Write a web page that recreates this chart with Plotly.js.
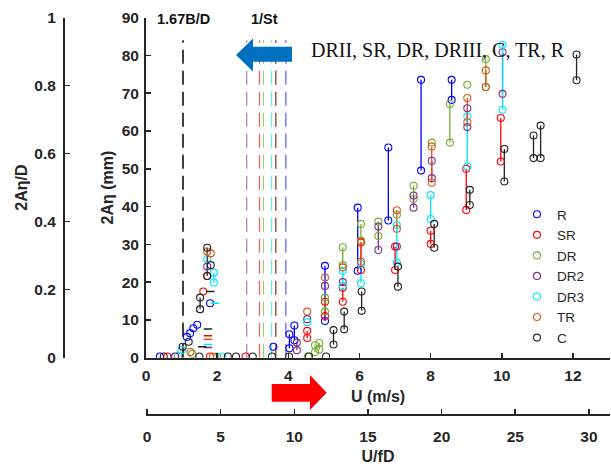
<!DOCTYPE html>
<html><head><meta charset="utf-8">
<script src="https://cdn.plot.ly/plotly-3.0.1.min.js"></script>
<style>html,body{margin:0;padding:0;background:#fff}#chart{width:611px;height:465px}</style>
</head><body><div id="chart"></div>
<script>
// ---------- data ----------
const seriesNames  = ['R', 'SR', 'DR', 'DR2', 'DR3', 'TR', 'C'];
const seriesColors = ['#0000ff', '#ff0000', '#77ac30', '#7e2f8e', '#00e5ff', '#d95319', '#222222'];

// each entry: U (m/s), upper 2Aη (mm), lower 2Aη (mm)  (equal when a single point)
const R_u  = [0.39, 0.82, 1.15, 1.24, 1.33, 1.44, 1.80, 3.58, 4.03, 4.17, 5.03, 5.95, 6.81, 7.73, 8.59];
const R_hi = [0.3, 0.3, 5.5, 6.5, 7.8, 8.7, 14.4, 2.9, 6.2, 8.5, 24.3, 39.7, 55.6, 73.5, 73.5];
const R_lo = [0.3, 0.3, 5.5, 6.5, 7.8, 8.7, 14.4, 2.9, 2.5, 4.6, 9.7, 23.0, 36.3, 49.5, 68.2];

const SR_u  = [0.60, 1.80, 2.80, 1.61, 1.72, 4.53, 5.03, 5.53, 6.04, 7.00, 8.00, 9.00, 9.97];
const SR_hi = [0.3, 0.3, 0.3, 17.5, 21.6, 7.1, 14.8, 18.5, 30.5, 29.4, 33.6, 50.0, 63.4];
const SR_lo = [0.3, 0.3, 0.3, 17.5, 21.6, 5.2, 11.0, 14.8, 23.2, 23.2, 30.1, 39.1, 51.9];

const DR_u  = [0.90, 1.30, 2.00, 4.55, 4.75, 4.87, 5.03, 5.53, 6.04, 6.53, 7.05, 7.52, 8.03, 8.54, 9.03, 9.55];
const DR_hi = [0.5, 1.0, 0.3, 0.3, 3.3, 3.9, 15.9, 29.2, 35.4, 36.0, 37.8, 45.5, 56.9, 67.1, 72.2, 79.0];
const DR_lo = [0.5, 1.0, 0.3, 0.3, 1.5, 2.2, 12.2, 24.5, 31.0, 32.2, 37.8, 42.0, 56.9, 56.9, 72.2, 71.6];

const DR2_u  = [1.52, 1.72, 4.24, 4.53, 5.03, 5.53, 6.53, 7.05, 7.52, 8.03, 9.03, 10.02];
const DR2_hi = [12.8, 24.1, 4.0, 10.2, 19.0, 20.0, 34.7, 29.4, 42.9, 52.1, 66.0, 80.8];
const DR2_lo = [12.8, 24.1, 2.0, 10.2, 19.0, 20.0, 28.5, 29.4, 39.7, 47.5, 61.0, 69.8];

const DR3_u  = [1.00, 2.14, 1.72, 1.91, 4.53, 5.53, 6.04, 7.05, 8.00, 9.03, 10.02];
const DR3_hi = [2.0, 0.3, 26.1, 22.5, 9.4, 23.0, 24.8, 35.1, 43.0, 63.8, 82.8];
const DR3_lo = [2.0, 0.3, 26.1, 19.9, 9.4, 19.0, 19.7, 25.2, 36.7, 50.6, 65.6];

const TR_u  = [1.25, 1.88, 1.72, 1.82, 4.53, 5.03, 5.53, 6.04, 7.05, 8.03, 9.03, 9.55];
const TR_hi = [1.5, 0.3, 28.1, 27.6, 12.2, 21.2, 23.9, 30.7, 39.0, 55.9, 68.7, 76.0];
const TR_lo = [1.5, 0.3, 28.1, 27.6, 12.2, 21.2, 23.9, 25.4, 34.1, 46.3, 62.3, 71.6];

const C_u  = [0.50, 1.50, 2.30, 2.53, 3.00, 3.54, 4.02, 4.58, 5.06, 1.03, 1.20, 1.52, 1.72, 1.82, 5.27, 5.57, 6.06, 7.08, 8.10, 9.10, 10.07, 10.89, 11.09, 12.10];
const C_hi = [0.3, 0.3, 0.3, 0.3, 0.3, 0.3, 0.3, 0.3, 0.3, 2.9, 4.2, 15.9, 29.1, 24.5, 7.3, 12.2, 17.5, 24.1, 35.4, 44.4, 55.2, 58.8, 61.4, 80.2];
const C_lo = [0.3, 0.3, 0.3, 0.3, 0.3, 0.3, 0.3, 0.3, 0.3, 2.9, 4.2, 12.8, 21.6, 24.5, 3.5, 7.5, 12.4, 18.8, 29.1, 40.4, 46.6, 52.8, 52.8, 73.4];

// short horizontal dash markers near the lock-in region
const dashU     = [1.81, 1.94, 1.74, 1.74, 1.74, 1.74, 1.74, 1.58];
const dashY     = [17.5, 14.4, 7.6, 5.8, 4.9, 3.5, 2.7, 2.9];
const dashColor = ['#222222', '#00e5ff', '#222222', '#ff0000', '#d95319', '#00e5ff', '#7e2f8e', '#222222'];

// reference lines
const vbU = [1.04];                    // 1.67B/D
const stU = [2.83, 3.19, 3.30, 3.53, 3.64, 3.66, 3.93];   // 1/St
const stColor = ['#7e2f8e', '#ff0000', '#77ac30', '#00e5ff', '#222222', '#d95319', '#0000ff'];
const refTop = 84;

const U_ticks   = [0, 2, 4, 6, 8, 10, 12];
const UfD_ticks = [0, 5, 10, 15, 20, 25, 30];

// ---------- build ----------
const seriesData = [[R_u,R_hi,R_lo],[SR_u,SR_hi,SR_lo],[DR_u,DR_hi,DR_lo],[DR2_u,DR2_hi,DR2_lo],
                    [DR3_u,DR3_hi,DR3_lo],[TR_u,TR_hi,TR_lo],[C_u,C_hi,C_lo]];
const traces = [];

// reference dashed lines
vbU.forEach(u => traces.push({x:[u,u], y:[0,refTop], mode:'lines', showlegend:false, hoverinfo:'skip',
  line:{color:'#111111', width:1.6, dash:'14px,7px'}}));
stU.forEach((u,i) => traces.push({x:[u,u], y:[0,refTop], mode:'lines', showlegend:false, hoverinfo:'skip',
  opacity:0.65, line:{color:stColor[i], width:1.2, dash:'14px,7px'}}));

// segments
seriesData.forEach((d,k) => {
  const [u,hi,lo] = d; const xs=[], ys=[];
  u.forEach((v,i) => { if (hi[i] !== lo[i]) { xs.push(v,v,null); ys.push(hi[i],lo[i],null); } });
  traces.push({x:xs, y:ys, mode:'lines', showlegend:false, hoverinfo:'skip',
    line:{color:seriesColors[k], width:1.3}});
});
// markers
seriesData.forEach((d,k) => {
  const [u,hi,lo] = d; const xs=[], ys=[];
  u.forEach((v,i) => { xs.push(v); ys.push(hi[i]); if (hi[i] !== lo[i]) { xs.push(v); ys.push(lo[i]); } });
  traces.push({x:xs, y:ys, mode:'markers', name:seriesNames[k],
    marker:{symbol:'circle-open', size:7, color:seriesColors[k], line:{width:1.1, color:seriesColors[k]}}});
});
// dashes
traces.push({x:dashU, y:dashY, mode:'markers', showlegend:false, hoverinfo:'skip',
  marker:{symbol:'line-ew', size:6, color:dashColor, line:{width:1.6, color:dashColor}}});
// dummy traces to activate the extra axes
traces.push({x:[0], y:[0], xaxis:'x2', yaxis:'y', mode:'markers', showlegend:false, hoverinfo:'skip', marker:{opacity:0}});
traces.push({x:[0], y:[0], xaxis:'x', yaxis:'y2', mode:'markers', showlegend:false, hoverinfo:'skip', marker:{opacity:0}});

// ---------- layout helpers (pixel -> paper) ----------
const W = 611, H = 465;
const px = v => v / W, py = v => 1 - v / H;
function poly(pts){ return 'M' + pts.map(p => px(p[0]).toFixed(5) + ',' + py(p[1]).toFixed(5)).join(' L') + ' Z'; }

const axCol = '#262626';
const tickFont = {family:'Liberation Sans, Arial, sans-serif', size:15.5, color:axCol, weight:'bold'};
const titleFont = {family:'Liberation Sans, Arial, sans-serif', size:16, color:axCol, weight:'bold'};
const domX = [px(146), px(610)];
const domY = [py(357.7), py(17.5)];

const layout = {
  width: W, height: H,
  margin: {l:0, r:0, t:0, b:0},
  paper_bgcolor: '#ffffff', plot_bgcolor: 'rgba(0,0,0,0)',
  showlegend: true,
  legend: {x: px(517), y: py(199), xanchor:'left', yanchor:'top', bgcolor:'rgba(0,0,0,0)',
           font:{family:'Liberation Sans, Arial, sans-serif', size:13.5, color:axCol}},
  xaxis: {domain: domX, range:[0, 13.04], tickvals:U_ticks, ticks:'inside', ticklen:5, tickwidth:1.6, tickcolor:axCol,
          showline:true, linewidth:2, linecolor:axCol, showgrid:false, zeroline:false, tickfont:tickFont,
          ticklabelstandoff:3,
          title:{text:'U (m/s)', font:titleFont, standoff:8}},
  yaxis: {domain: domY, range:[0, 90], dtick:10, ticks:'inside', ticklen:5, tickwidth:1.6, tickcolor:axCol,
          showline:true, linewidth:2, linecolor:axCol, showgrid:false, zeroline:false, tickfont:tickFont,
          ticklabelstandoff:2,
          title:{text:'2Aη (mm)', font:titleFont, standoff:4}},
  xaxis2: {overlaying:'x', anchor:'free', position: py(415), side:'bottom', range:[-0.07, 31.43], tickvals:UfD_ticks,
          ticks:'inside', ticklen:5, tickwidth:1.6, tickcolor:axCol, showline:true, linewidth:2, linecolor:axCol,
          showgrid:false, zeroline:false, tickfont:tickFont, ticklabelstandoff:7,
          title:{text:'U/fD', font:titleFont, standoff:8}},
  yaxis2: {overlaying:'y', anchor:'free', position: px(64), side:'left', range:[0, 1], dtick:0.2,
          ticks:'inside', ticklen:5, tickwidth:1.6, tickcolor:axCol, showline:true, linewidth:2, linecolor:axCol,
          showgrid:false, zeroline:false, tickfont:tickFont, ticklabelstandoff:4,
          title:{text:'2Aη/D', font:titleFont, standoff:2}},
  shapes: [
    {type:'path', xref:'paper', yref:'paper', fillcolor:'#0070c0', line:{width:0},
     path: poly([[236,55],[253,38.5],[253,46.7],[292,46.7],[292,61.7],[253,61.7],[253,71.5]])},
    {type:'path', xref:'paper', yref:'paper', fillcolor:'#ff0000', line:{width:0},
     path: poly([[271.7,384],[310,384],[310,375],[326.7,392.8],[310,410],[310,401.7],[271.7,401.7]])}
  ],
  annotations: [
    {text:'1.67B/D', xref:'paper', yref:'paper', x:px(183), y:py(19), showarrow:false, xanchor:'center', yanchor:'middle',
     font:{family:'Liberation Sans, Arial, sans-serif', size:14.5, color:'#111', weight:'bold'}},
    {text:'1/St', xref:'paper', yref:'paper', x:px(264.5), y:py(19), showarrow:false, xanchor:'center', yanchor:'middle',
     font:{family:'Liberation Sans, Arial, sans-serif', size:14.5, color:'#111', weight:'bold'}},
    {text:'DRII, SR, DR, DRIII, C, TR, R', xref:'paper', yref:'paper', x:px(309), y:py(50), showarrow:false,
     xanchor:'left', yanchor:'middle', font:{family:'Liberation Serif, Times New Roman, serif', size:20, color:'#111'}}
  ]
};

Plotly.newPlot('chart', traces, layout, {staticPlot:true, displayModeBar:false});
</script></body></html>
